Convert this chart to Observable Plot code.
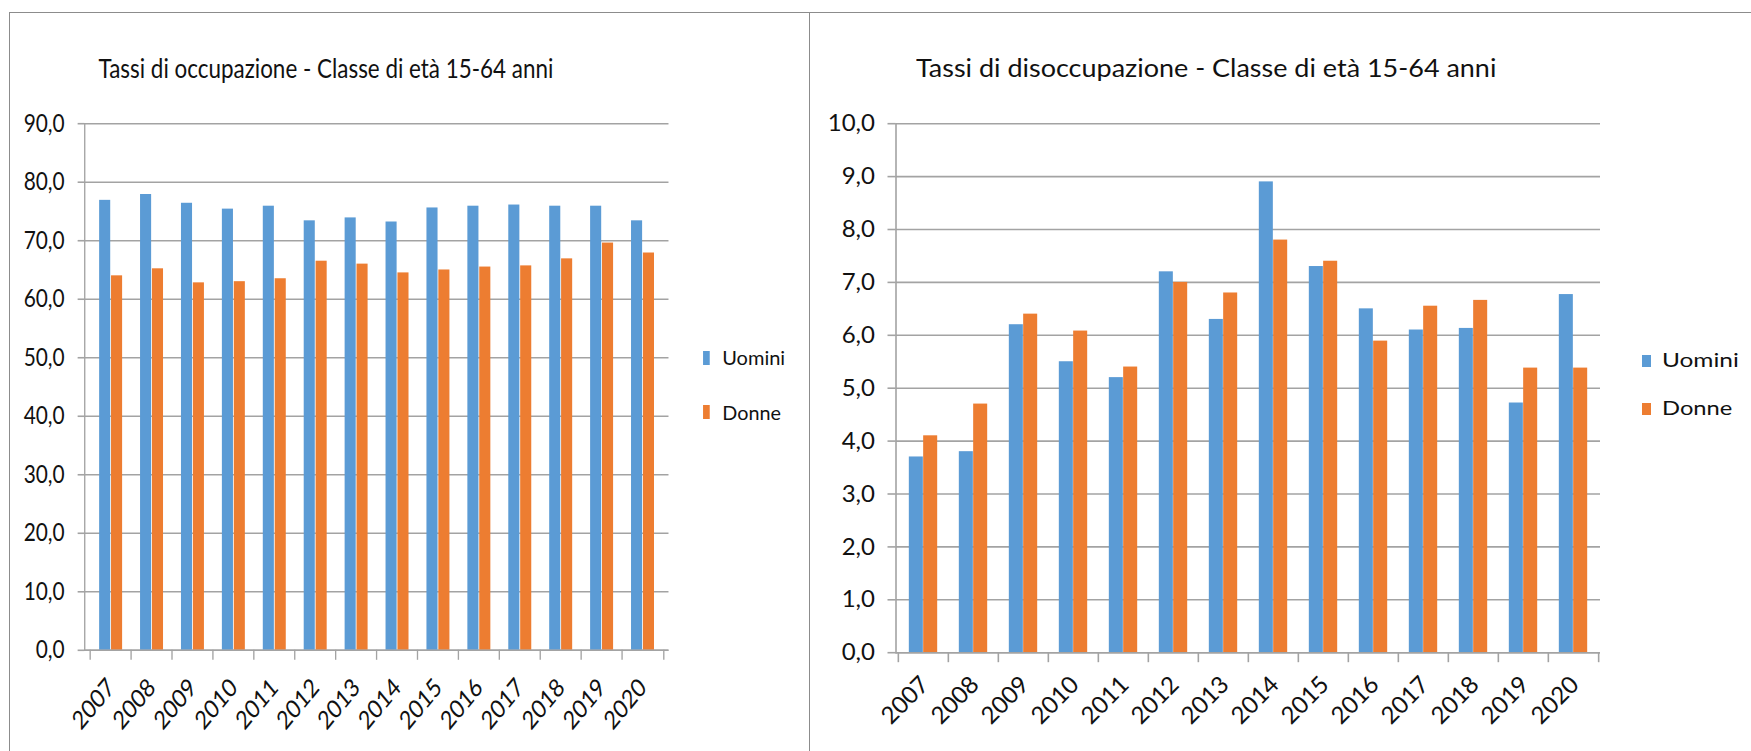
<!DOCTYPE html>
<html><head><meta charset="utf-8">
<script src="https://cdn.jsdelivr.net/npm/d3@7"></script>
<script src="https://cdn.jsdelivr.net/npm/@observablehq/plot@0.6"></script>
<style>
html,body{margin:0;padding:0;background:#fff;}
body{width:1751px;height:751px;overflow:hidden;position:relative;font-family:Lato,"Open Sans",sans-serif;color:#111;}
.frame{position:absolute;border-color:#8c8c8c;border-style:solid;border-width:0;box-sizing:border-box;}
.panel{position:absolute;top:12.5px;height:739px;transform-origin:0 0;}
.panel svg{position:absolute;left:0;top:0;overflow:visible;}
.txt{position:absolute;white-space:nowrap;line-height:1;transform-origin:0 50%;}
.sw{position:absolute;}
</style></head><body>
<div class="frame" style="left:9px;top:11.5px;width:801px;height:760px;border-width:1.5px 1.5px 0 1.5px;"></div>
<div class="frame" style="left:809px;top:12px;width:960px;height:760px;border-width:1.5px 0 0 1.5px;"></div>
<div id="left" class="panel"></div>
<div id="right" class="panel"></div>
<script>
const years = [2007, 2008, 2009, 2010, 2011, 2012, 2013, 2014, 2015, 2016, 2017, 2018, 2019, 2020];
const seriesNames = ["Uomini", "Donne"];
const seriesColors = ["#5B9BD5", "#ED7D31"];

const occTitle = "Tassi di occupazione - Classe di età 15-64 anni";
const occUomini = [76.9, 77.9, 76.4, 75.4, 75.9, 73.4, 73.9, 73.2, 75.6, 75.9, 76.1, 75.9, 75.9, 73.4];
const occDonne = [64.0, 65.2, 62.8, 63.0, 63.5, 66.5, 66.0, 64.5, 65.0, 65.5, 65.7, 66.9, 69.6, 67.9];
const occTicks = [0, 10, 20, 30, 40, 50, 60, 70, 80, 90];

const disTitle = "Tassi di disoccupazione - Classe di età 15-64 anni";
const disUomini = [3.7, 3.8, 6.2, 5.5, 5.2, 7.2, 6.3, 8.9, 7.3, 6.5, 6.1, 6.13, 4.72, 6.77];
const disDonne = [4.1, 4.7, 6.4, 6.08, 5.4, 7.0, 6.8, 7.8, 7.4, 5.89, 6.55, 6.66, 5.38, 5.38];
const disTicks = [0, 1, 2, 3, 4, 5, 6, 7, 8, 9, 10];

const fmt = d => d.toFixed(1).replace(".", ",");
const GRID = "#a3a3a3";
const INK = "#111";

function fit(el, target) {
  const w = el.offsetWidth;
  el.style.transform = `scaleX(${target / w})`;
}

function renderPanel(cfg) {
  const host = document.getElementById(cfg.id);
  host.style.left = cfg.x + "px";
  host.style.width = cfg.width + "px";
  host.style.transform = `scaleX(${cfg.scale})`;
  const plotW = cfg.width - cfg.marginLeft - cfg.marginRight;
  const bw = plotW / years.length;
  const bf = 0.285;
  const rows = (vals) => years.map((y, i) => ({year: y, value: vals[i]}));
  const axisStyle = {stroke: GRID, strokeWidth: 1.6};
  const chart = Plot.plot({
    width: cfg.width,
    height: 739,
    marginLeft: cfg.marginLeft,
    marginRight: cfg.marginRight,
    marginTop: cfg.marginTop,
    marginBottom: cfg.marginBottom,
    style: {fontFamily: "Lato, 'Open Sans', sans-serif", color: INK, background: "transparent", overflow: "visible"},
    x: {type: "band", domain: years, padding: 0, axis: null, label: null},
    y: {domain: [cfg.ticks[0], cfg.ticks[cfg.ticks.length - 1]], axis: null, label: null},
    marks: [
      Plot.gridY(cfg.ticks, {stroke: GRID, strokeOpacity: 1, strokeWidth: 1.6}),
      Plot.barY(rows(cfg.series[0]), {x: "year", y: "value", fill: seriesColors[0], insetLeft: bw * (0.5 - bf), insetRight: bw * 0.5}),
      Plot.barY(rows(cfg.series[1]), {x: "year", y: "value", fill: seriesColors[1], insetLeft: bw * 0.5, insetRight: bw * (0.5 - bf)}),
      Plot.frame({anchor: "left", ...axisStyle}),
      Plot.ruleY([0], axisStyle),
      Plot.axisY(cfg.ticks, {anchor: "left", tickSize: 8, tickPadding: cfg.tickPadY, tickFormat: fmt, fontSize: cfg.yFont, fill: INK, label: null, ...axisStyle}),
      Plot.axisX(years, {anchor: "bottom", tickSize: 10, dx: -bw / 2, tickFormat: () => "", label: null, ...axisStyle}),
      Plot.axisX([years[years.length - 1]], {anchor: "bottom", tickSize: 10, dx: bw / 2, tickFormat: () => "", label: null, ...axisStyle}),
      Plot.axisX(years, {anchor: "bottom", tickSize: 0, tickRotate: -45, tickPadding: cfg.tickPadX, dx: cfg.labelDx, fontSize: cfg.xFont, fill: INK, label: null, tickFormat: d => String(d)})
    ]
  });
  host.appendChild(chart);

  const t = document.createElement("div");
  t.className = "txt";
  t.textContent = cfg.title;
  t.style.fontSize = cfg.titleFont + "px";
  t.style.left = cfg.titleX + "px";
  t.style.top = (cfg.titleY - 0.53 * cfg.titleFont) + "px";
  host.appendChild(t);
  fit(t, cfg.titleW);

  seriesNames.forEach((name, i) => {
    const L = cfg.legend[i];
    const sw = document.createElement("div");
    sw.className = "sw";
    sw.style.background = seriesColors[i];
    sw.style.left = L.sx + "px";
    sw.style.top = L.sy + "px";
    sw.style.width = L.sw + "px";
    sw.style.height = L.sh + "px";
    host.appendChild(sw);
    const lt = document.createElement("div");
    lt.className = "txt";
    lt.textContent = name;
    lt.style.fontSize = "20px";
    lt.style.left = L.tx + "px";
    lt.style.top = (L.ty - 10.6) + "px";
    host.appendChild(lt);
    fit(lt, L.tw);
  });
}

renderPanel({
  id: "left", x: 9.5, width: 958, scale: 0.835,
  marginLeft: 89, marginRight: 169.4, marginTop: 110.2, marginBottom: 102.2,
  tickPadY: 16, tickPadX: 33, labelDx: 0, yFont: 25, xFont: 25.5,
  ticks: occTicks, series: [occUomini, occDonne],
  title: occTitle, titleX: 106, titleY: 57, titleW: 545, titleFont: 26.5,
  legend: [
    {sx: 830, sy: 338.5, sw: 8, sh: 13.5, tx: 853, ty: 345, tw: 75.5},
    {sx: 830, sy: 392.5, sw: 8, sh: 13.5, tx: 853, ty: 399.6, tw: 70}
  ]
});
renderPanel({
  id: "right", x: 809.5, width: 942, scale: 1,
  marginLeft: 85.5, marginRight: 152, marginTop: 110.2, marginBottom: 99.8,
  tickPadY: 13, tickPadX: 28, labelDx: 1.5, yFont: 24, xFont: 24,
  ticks: disTicks, series: [disUomini, disDonne],
  title: disTitle, titleX: 106.5, titleY: 56.5, titleW: 580, titleFont: 24.5,
  legend: [
    {sx: 832, sy: 342.5, sw: 9.5, sh: 11.5, tx: 852.5, ty: 347.5, tw: 77},
    {sx: 832, sy: 390.5, sw: 9.5, sh: 11.5, tx: 852.5, ty: 395.4, tw: 70}
  ]
});
</script>
</body></html>
